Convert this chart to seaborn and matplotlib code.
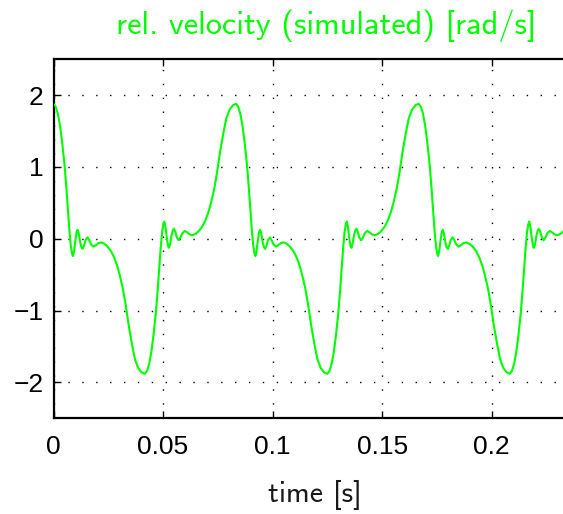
import matplotlib
matplotlib.use("Agg")
import matplotlib.pyplot as plt
import pandas as pd
import seaborn as sns

# Simulated relative velocity trace, sampled along time [s]
time_s = [
    0.0000, 0.0010, 0.0020, 0.0030, 0.0040, 0.0050, 0.0058, 0.0065, 0.0072, 0.0079,
    0.0085, 0.0089, 0.0094, 0.0100, 0.0106, 0.0110, 0.0115, 0.0122, 0.0128, 0.0133,
    0.0139, 0.0146, 0.0155, 0.0163, 0.0172, 0.0183, 0.0193, 0.0205, 0.0218, 0.0232,
    0.0247, 0.0262, 0.0277, 0.0290, 0.0302, 0.0317, 0.0330, 0.0344, 0.0359, 0.0372,
    0.0387, 0.0402,
    0.0417, 0.0427, 0.0437, 0.0447, 0.0457, 0.0467, 0.0475, 0.0482, 0.0489, 0.0496,
    0.0502, 0.0506, 0.0511, 0.0517, 0.0523, 0.0527, 0.0532, 0.0539, 0.0545, 0.0550,
    0.0556, 0.0563, 0.0572, 0.0580, 0.0589, 0.0600, 0.0610, 0.0622, 0.0635, 0.0649,
    0.0664, 0.0679, 0.0694, 0.0707, 0.0719, 0.0734, 0.0747, 0.0761, 0.0776, 0.0789,
    0.0804, 0.0819,
    0.0833, 0.0843, 0.0853, 0.0863, 0.0873, 0.0883, 0.0891, 0.0898, 0.0905, 0.0912,
    0.0918, 0.0922, 0.0927, 0.0933, 0.0939, 0.0943, 0.0948, 0.0955, 0.0961, 0.0966,
    0.0972, 0.0979, 0.0988, 0.0996, 0.1005, 0.1016, 0.1026, 0.1038, 0.1051, 0.1065,
    0.1080, 0.1095, 0.1110, 0.1123, 0.1135, 0.1150, 0.1163, 0.1177, 0.1192, 0.1205,
    0.1220, 0.1235,
    0.1250, 0.1260, 0.1270, 0.1280, 0.1290, 0.1300, 0.1308, 0.1315, 0.1322, 0.1329,
    0.1335, 0.1339, 0.1344, 0.1350, 0.1356, 0.1360, 0.1365, 0.1372, 0.1378, 0.1383,
    0.1389, 0.1396, 0.1405, 0.1413, 0.1422, 0.1433, 0.1443, 0.1455, 0.1468, 0.1482,
    0.1497, 0.1512, 0.1527, 0.1540, 0.1552, 0.1567, 0.1580, 0.1594, 0.1609, 0.1622,
    0.1637, 0.1652,
    0.1667, 0.1677, 0.1687, 0.1697, 0.1707, 0.1717, 0.1725, 0.1732, 0.1739, 0.1746,
    0.1752, 0.1756, 0.1761, 0.1767, 0.1773, 0.1777, 0.1782, 0.1789, 0.1795, 0.1800,
    0.1806, 0.1813, 0.1822, 0.1830, 0.1839, 0.1850, 0.1860, 0.1872, 0.1885, 0.1899,
    0.1914, 0.1929, 0.1944, 0.1957, 0.1969, 0.1984, 0.1997, 0.2011, 0.2026, 0.2039,
    0.2054, 0.2069,
    0.2083, 0.2093, 0.2103, 0.2113, 0.2123, 0.2133, 0.2141, 0.2148, 0.2155, 0.2162,
    0.2168, 0.2172, 0.2177, 0.2183, 0.2189, 0.2193, 0.2198, 0.2205, 0.2211, 0.2216,
    0.2222, 0.2229, 0.2238, 0.2246, 0.2255, 0.2266, 0.2276, 0.2288, 0.2301, 0.2315,
    0.2330,
]

rel_velocity = [
    1.88, 1.84, 1.74, 1.57, 1.33, 1.04, 0.74, 0.44, 0.14, -0.10,
    -0.21, -0.24, -0.17, -0.02, 0.10, 0.125, 0.08, -0.05, -0.12, -0.14,
    -0.10, -0.02, 0.02, -0.02, -0.08, -0.11, -0.09, -0.06, -0.05, -0.07,
    -0.11, -0.17, -0.26, -0.37, -0.50, -0.70, -0.93, -1.22, -1.48, -1.68,
    -1.80, -1.86,
    -1.88, -1.84, -1.74, -1.57, -1.33, -1.04, -0.74, -0.44, -0.14, 0.10,
    0.21, 0.24, 0.17, 0.02, -0.10, -0.125, -0.08, 0.05, 0.12, 0.14,
    0.10, 0.02, -0.02, 0.02, 0.08, 0.11, 0.09, 0.06, 0.05, 0.07,
    0.11, 0.17, 0.26, 0.37, 0.50, 0.70, 0.93, 1.22, 1.48, 1.68,
    1.80, 1.86,
    1.88, 1.84, 1.74, 1.57, 1.33, 1.04, 0.74, 0.44, 0.14, -0.10,
    -0.21, -0.24, -0.17, -0.02, 0.10, 0.125, 0.08, -0.05, -0.12, -0.14,
    -0.10, -0.02, 0.02, -0.02, -0.08, -0.11, -0.09, -0.06, -0.05, -0.07,
    -0.11, -0.17, -0.26, -0.37, -0.50, -0.70, -0.93, -1.22, -1.48, -1.68,
    -1.80, -1.86,
    -1.88, -1.84, -1.74, -1.57, -1.33, -1.04, -0.74, -0.44, -0.14, 0.10,
    0.21, 0.24, 0.17, 0.02, -0.10, -0.125, -0.08, 0.05, 0.12, 0.14,
    0.10, 0.02, -0.02, 0.02, 0.08, 0.11, 0.09, 0.06, 0.05, 0.07,
    0.11, 0.17, 0.26, 0.37, 0.50, 0.70, 0.93, 1.22, 1.48, 1.68,
    1.80, 1.86,
    1.88, 1.84, 1.74, 1.57, 1.33, 1.04, 0.74, 0.44, 0.14, -0.10,
    -0.21, -0.24, -0.17, -0.02, 0.10, 0.125, 0.08, -0.05, -0.12, -0.14,
    -0.10, -0.02, 0.02, -0.02, -0.08, -0.11, -0.09, -0.06, -0.05, -0.07,
    -0.11, -0.17, -0.26, -0.37, -0.50, -0.70, -0.93, -1.22, -1.48, -1.68,
    -1.80, -1.86,
    -1.88, -1.84, -1.74, -1.57, -1.33, -1.04, -0.74, -0.44, -0.14, 0.10,
    0.21, 0.24, 0.17, 0.02, -0.10, -0.125, -0.08, 0.05, 0.12, 0.14,
    0.10, 0.02, -0.02, 0.02, 0.08, 0.11, 0.09, 0.06, 0.05, 0.07,
    0.11,
]

x_ticks = [0, 0.05, 0.1, 0.15, 0.2]
x_tick_labels = ["0", "0.05", "0.1", "0.15", "0.2"]
y_ticks = [-2, -1, 0, 1, 2]
y_tick_labels = ["\u22122", "\u22121", "0", "1", "2"]

title_text = "rel. velocity (simulated) [rad/s]"
x_label_text = "time [s]"

sns.set_theme(style="white")
plt.rcParams["font.family"] = ["Liberation Sans", "DejaVu Sans"]

W, H = 563, 514
fig = plt.figure(figsize=(W / 100, H / 100), dpi=100)
fig.patch.set_facecolor("white")

left, right, top, bottom = 53.5, 563.0, 59.3, 418.3
ax = fig.add_axes([left / W, 1 - bottom / H, (right - left) / W, (bottom - top) / H])
ax.set_facecolor("white")

df = pd.DataFrame({"time": time_s, "velocity": rel_velocity})
sns.lineplot(data=df, x="time", y="velocity", ax=ax, color="#00ff00",
             linewidth=1.5, estimator=None, sort=False, zorder=3)

ax.set_xlim(0, 0.2326)
ax.set_ylim(-2.5, 2.5)
ax.set_xticks(x_ticks)
ax.set_xticklabels(x_tick_labels)
ax.set_yticks(y_ticks)
ax.set_yticklabels(y_tick_labels)
ax.set_xlabel("")
ax.set_ylabel("")

ax.grid(True, color="black", linestyle=(0, (1, 9)), linewidth=1.0, zorder=1)

for side in ["left", "top", "bottom"]:
    ax.spines[side].set_visible(True)
    ax.spines[side].set_color("black")
    ax.spines[side].set_linewidth(1.6)
ax.spines["right"].set_visible(False)

ax.tick_params(axis="both", direction="in", length=5, width=1.0, colors="black",
               labelsize=19, top=True, right=False, bottom=True, left=True)
ax.tick_params(axis="x", pad=12)
ax.tick_params(axis="y", pad=7)

fig.text(326 / W, 1 - 34.5 / H, title_text, ha="center", va="baseline",
         color="#00ff00", fontsize=23.3, family=["cmss10", "DejaVu Sans"])
fig.text(314.5 / W, 1 - 502.5 / H, x_label_text, ha="center", va="baseline",
         color="#1a1a1a", fontsize=21.6, family=["cmss10", "DejaVu Sans"])

fig.savefig("out.png", dpi=100, facecolor="white")
